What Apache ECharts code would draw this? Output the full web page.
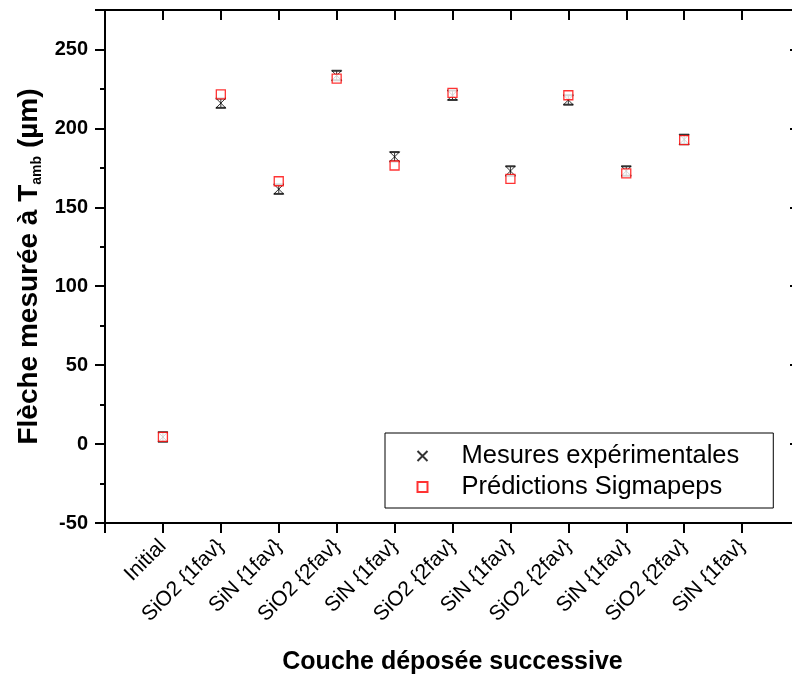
<!DOCTYPE html>
<html>
<head>
<meta charset="utf-8">
<script src="https://cdn.jsdelivr.net/npm/echarts@6/dist/echarts.min.js"></script>
<style>
html,body{margin:0;padding:0;background:#fff;}
#chart{width:792px;height:675px;}
</style>
</head>
<body>
<div id="chart"></div>
<script>
var categories = ['Initial','SiO2 {1fav}','SiN {1fav}','SiO2 {2fav}','SiN {1fav}','SiO2 {2fav}','SiN {1fav}','SiO2 {2fav}','SiN {1fav}','SiO2 {2fav}','SiN {1fav}'];
var mesures = [4.5, 216, 161.5, 233.5, 182, 221, 173, 218, 173, 193, null];
var mesuresErr = [3, 3, 3, 3, 3, 3, 3, 3, 3, 3, null];
var predictions = [4.5, 221.5, 166.5, 231.5, 176.5, 222.5, 168, 221, 171.5, 192.5, null];
var yTicks = [-50, 0, 50, 100, 150, 200, 250];

var FONT = '"Liberation Sans", Arial, sans-serif';
function pts(vals){
  var out = [];
  vals.forEach(function(v,i){ if(v!==null) out.push([i+1, v]); });
  return out;
}
var errData = [];
mesures.forEach(function(v,i){ if(v!==null) errData.push([i+1, v, mesuresErr[i]]); });

var chart = echarts.init(document.getElementById('chart'));
var axisLine = {show:true, onZero:false, lineStyle:{color:'#000', width:2}};
var option = {
  animation:false,
  backgroundColor:'#fff',
  grid:{left:105, top:10, width:695, height:513, containLabel:false, outerBoundsMode:'none'},
  legend:{
    left:385, top:433, orient:'vertical',
    data:['Mesures expérimentales','Prédictions Sigmapeps'],
    borderColor:'#000', borderWidth:1, backgroundColor:'#fff',
    padding:[10,34,8,30], itemGap:5, itemWidth:10, itemHeight:10,
    textStyle:{fontFamily:FONT, fontSize:25.5, color:'#000', lineHeight:24, padding:[0,0,0,29]}
  },
  xAxis:[{
    type:'value', min:0, max:12, interval:1, position:'bottom',
    name:'Couche déposée successive', nameLocation:'middle', nameGap:127,
    nameTextStyle:{fontFamily:FONT, fontSize:25, fontWeight:'bold', color:'#000'},
    axisLine:axisLine,
    axisTick:{show:true, inside:false, length:10, lineStyle:{color:'#000', width:2}},
    axisLabel:{rotate:45, margin:20, fontFamily:FONT, fontSize:21, color:'#000',
      showMinLabel:true, showMaxLabel:true,
      formatter:function(v){ return categories[v-1] || ''; }},
    splitLine:{show:false}
  },{
    type:'value', min:0, max:12, interval:1, position:'top',
    axisLine:axisLine,
    axisTick:{show:true, inside:true, length:10, lineStyle:{color:'#000', width:2}},
    axisLabel:{show:false}, splitLine:{show:false}
  }],
  yAxis:[{
    type:'value', min:-50, max:275, interval:50, position:'left',
    name:'{b|Flèche mesurée à T}{s|amb}{b| (µm)}', nameLocation:'middle', nameGap:61,
    nameTextStyle:{color:'#000', rich:{
      b:{fontFamily:FONT, fontSize:28, fontWeight:'bold', color:'#000'},
      s:{fontFamily:FONT, fontSize:14, fontWeight:'bold', color:'#000', padding:[15,0,0,0]}
    }},
    axisLine:axisLine,
    axisTick:{show:true, inside:false, length:10, lineStyle:{color:'#000', width:2}},
    minorTick:{show:true, splitNumber:2, length:5, lineStyle:{color:'#000', width:2}},
    axisLabel:{margin:17, fontFamily:FONT, fontSize:20, fontWeight:'bold', color:'#000',
      showMaxLabel:false,
      formatter:function(v){ return yTicks.indexOf(v)>=0 ? String(v) : ''; }},
    splitLine:{show:false}
  },{
    type:'value', min:-50, max:275, interval:50, position:'right',
    axisLine:axisLine,
    axisTick:{show:true, inside:true, length:10, lineStyle:{color:'#000', width:2}},
    minorTick:{show:true, splitNumber:2, length:5, lineStyle:{color:'#000', width:2}},
    axisLabel:{show:false}, splitLine:{show:false}
  }],
  series:[{
    type:'custom', name:'err', silent:true, z:2,
    data:errData,
    renderItem:function(params, api){
      var x = api.value(0), y = api.value(1), e = api.value(2);
      var hi = api.coord([x, y+e]), lo = api.coord([x, y-e]);
      var w = 5;
      return {type:'group', children:[
        {type:'line', shape:{x1:hi[0], y1:hi[1], x2:lo[0], y2:lo[1]}, style:{stroke:'#333', lineWidth:1}},
        {type:'line', shape:{x1:hi[0]-w, y1:hi[1], x2:hi[0]+w, y2:hi[1]}, style:{stroke:'#333', lineWidth:2}},
        {type:'line', shape:{x1:lo[0]-w, y1:lo[1], x2:lo[0]+w, y2:lo[1]}, style:{stroke:'#333', lineWidth:2}}
      ]};
    }
  },{
    type:'scatter', name:'Mesures expérimentales', z:3,
    data:pts(mesures),
    symbol:'path://M0,0L10,10M10,0L0,10', symbolSize:10,
    itemStyle:{color:'none', borderColor:'#000', borderWidth:1}
  },{
    type:'scatter', name:'Prédictions Sigmapeps', z:4,
    data:pts(predictions),
    symbol:'rect', symbolSize:9,
    itemStyle:{color:'#fff', borderColor:'#ff0000', borderWidth:1.3}
  }]
};
chart.setOption(option);
</script>
</body>
</html>
